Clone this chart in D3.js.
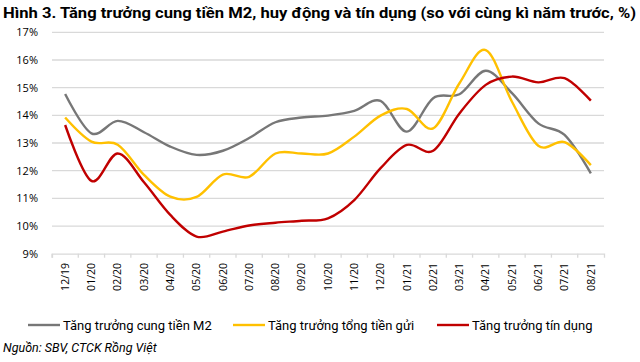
<!DOCTYPE html>
<html>
<head>
<meta charset="utf-8">
<script src="https://cdn.jsdelivr.net/npm/d3@7"></script>
<style>
  body { margin: 0; background: #fff; }
  text { font-family: "Open Sans", "Noto Sans", sans-serif; }
</style>
</head>
<body>
<div id="chart"></div>
<script>
// categories (month/year)
var months = ["12/19","01/20","02/20","03/20","04/20","05/20","06/20","07/20","08/20","09/20","10/20",
  "11/20","12/20","01/21","02/21","03/21","04/21","05/21","06/21","07/21","08/21"];

// series, % yoy
var m2 = [14.77,13.35,13.8,13.39,12.87,12.57,12.72,13.18,13.75,13.92,13.99,14.16,14.52,13.41,14.62,14.76,15.61,14.8,13.71,13.29,11.9];
var deposits = [13.92,13.05,12.94,11.85,11.06,11.05,11.86,11.78,12.62,12.62,12.62,13.23,13.99,14.23,13.53,15.16,16.36,14.49,12.9,13.03,12.2];
var credit = [13.65,11.63,12.62,11.58,10.4,9.62,9.8,10.02,10.12,10.19,10.28,10.94,12.09,12.93,12.72,14.07,15.1,15.4,15.19,15.34,14.53];

var yTicks = [9,10,11,12,13,14,15,16,17];

var series = [
  {name: "Tăng trưởng cung tiền M2", values: m2, color: "#777777"},
  {name: "Tăng trưởng tổng tiền gửi", values: deposits, color: "#ffc000"},
  {name: "Tăng trưởng tín dụng", values: credit, color: "#c00000"}
];

var W = 640, H = 362;
var svg = d3.select("#chart").append("svg")
  .attr("width", W)
  .attr("height", H);

// title
svg.append("text")
  .attr("x", 3)
  .attr("y", 18)
  .style("font-family", "'Liberation Sans Narrow', 'Roboto', sans-serif")
  .style("font-weight", "bold")
  .style("font-size", "15px")
  .attr("fill", "#000")
  .attr("textLength", 633)
  .attr("lengthAdjust", "spacingAndGlyphs")
  .text("Hình 3. Tăng trưởng cung tiền M2, huy động và tín dụng (so với cùng kì năm trước, %)");

var plotL = 52, plotR = 604, plotT = 32.3, plotB = 253.7;

var x = d3.scaleBand()
  .domain(months)
  .range([plotL, plotR]);

var y = d3.scaleLinear()
  .domain([9, 17])
  .range([plotB, plotT]);

// gridlines
svg.append("g")
  .selectAll("line")
  .data(yTicks.slice(1))
  .enter().append("line")
    .attr("x1", plotL)
    .attr("x2", plotR)
    .attr("y1", function(d) { return y(d); })
    .attr("y2", function(d) { return y(d); })
    .attr("stroke", "#d9d9d9")
    .attr("stroke-width", 1.3);

// y axis labels
svg.append("g")
  .selectAll("text")
  .data(yTicks)
  .enter().append("text")
    .attr("x", 38)
    .attr("y", function(d) { return y(d); })
    .attr("dy", "0.35em")
    .attr("text-anchor", "end")
    .style("font-size", "11px")
    .attr("fill", "#000")
    .text(function(d) { return d + "%"; });

// x axis
var xAxis = d3.axisBottom(x).tickSize(4).tickSizeOuter(4).tickFormat("");
var gx = svg.append("g")
  .attr("transform", "translate(0," + plotB + ")")
  .call(xAxis);
gx.select(".domain").attr("stroke", "#d9d9d9").attr("stroke-width", 1.3);
gx.selectAll(".tick line").attr("stroke", "#d9d9d9").attr("stroke-width", 1.3)
  .attr("transform", "translate(" + (-x.bandwidth() / 2) + ",0)");

svg.append("g")
  .selectAll("text")
  .data(months)
  .enter().append("text")
    .attr("transform", function(d) { return "translate(" + (x(d) + x.bandwidth() / 2) + ",263) rotate(-90)"; })
    .attr("dy", "0.35em")
    .attr("text-anchor", "end")
    .style("font-size", "10.5px")
    .attr("fill", "#000")
    .text(function(d) { return d; });

// lines
var line = d3.line()
  .x(function(d, i) { return x(months[i]) + x.bandwidth() / 2; })
  .y(function(d) { return y(d); })
  .curve(d3.curveCardinal.tension(0));

svg.append("g")
  .selectAll("path")
  .data(series)
  .enter().append("path")
    .attr("d", function(s) { return line(s.values); })
    .attr("fill", "none")
    .attr("stroke", function(s) { return s.color; })
    .attr("stroke-width", 2.4);

// legend
var legendX = [28, 233, 437];
var lg = svg.append("g")
  .selectAll("g")
  .data(series)
  .enter().append("g")
    .attr("transform", function(s, i) { return "translate(" + legendX[i] + ",325)"; });
lg.append("line")
  .attr("x1", 0).attr("x2", 32)
  .attr("stroke", function(s) { return s.color; })
  .attr("stroke-width", 2.4);
lg.append("text")
  .attr("x", 35)
  .attr("dy", "0.35em")
  .style("font-family", "'Liberation Sans Narrow', 'Roboto', sans-serif")
  .style("font-size", "13px")
  .attr("fill", "#000")
  .text(function(s) { return s.name; });

// source
svg.append("text")
  .attr("x", 3)
  .attr("y", 352)
  .style("font-family", "'Liberation Sans Narrow', 'Roboto', sans-serif")
  .style("font-style", "italic")
  .style("font-size", "12.5px")
  .attr("fill", "#000")
  .text("Nguồn: SBV, CTCK Rồng Việt");
</script>
</body>
</html>
